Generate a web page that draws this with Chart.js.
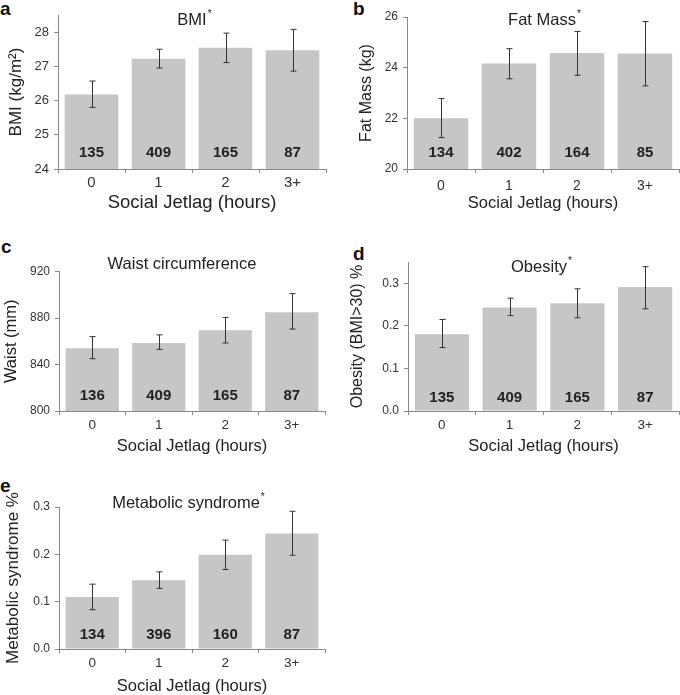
<!DOCTYPE html>
<html>
<head>
<meta charset="utf-8">
<script src="https://cdn.jsdelivr.net/npm/chart.js@4.4.1/dist/chart.umd.min.js"></script>
<style>
  body { margin: 0; background: #fff; width: 680px; height: 695px; position: relative; overflow: hidden;
         font-family: "Liberation Sans", Arial, Helvetica, sans-serif; }
  .panel { position: absolute; }
  .letter { position: absolute; font-weight: bold; font-size: 19px; line-height: 19px; color: #111; }
</style>
</head>
<body>
<div class="letter" style="left:0px;top:-1px">a</div>
<div class="letter" style="left:353px;top:-1px">b</div>
<div class="letter" style="left:1px;top:237px">c</div>
<div class="letter" style="left:353px;top:244px">d</div>
<div class="letter" style="left:0px;top:476px">e</div>

<div class="panel" id="pa"><canvas id="ca"></canvas></div>
<div class="panel" id="pb"><canvas id="cb"></canvas></div>
<div class="panel" id="pc"><canvas id="cc"></canvas></div>
<div class="panel" id="pd"><canvas id="cd"></canvas></div>
<div class="panel" id="pe"><canvas id="ce"></canvas></div>

<script>
const categories = ['0', '1', '2', '3+'];

// a: BMI
const bmiMean = [26.18, 27.22, 27.54, 27.47];
const bmiLow  = [25.80, 26.95, 27.11, 26.86];
const bmiHigh = [26.57, 27.50, 27.97, 28.08];
const bmiN    = [135, 409, 165, 87];
const bmiTicks = [24, 25, 26, 27, 28];

// b: Fat mass
const fatMean = [22.00, 24.16, 24.58, 24.56];
const fatLow  = [21.24, 23.56, 23.70, 23.28];
const fatHigh = [22.78, 24.75, 25.43, 25.82];
const fatN    = [134, 402, 164, 85];
const fatTicks = [20, 22, 24, 26];

// c: Waist
const waistMean = [854, 858.5, 869.5, 885];
const waistLow  = [845, 853, 858.5, 870.5];
const waistHigh = [864, 865.5, 880.5, 901];
const waistN    = [136, 409, 165, 87];
const waistTicks = [800, 840, 880, 920];

// d: Obesity
const obesMean = [0.180, 0.243, 0.253, 0.291];
const obesLow  = [0.149, 0.224, 0.219, 0.240];
const obesHigh = [0.215, 0.265, 0.287, 0.339];
const obesN    = [135, 409, 165, 87];
const obesTicks = [0, 0.1, 0.2, 0.3];

// e: Metabolic syndrome
const metMean = [0.110, 0.145, 0.199, 0.244];
const metLow  = [0.083, 0.128, 0.168, 0.198];
const metHigh = [0.137, 0.163, 0.230, 0.291];
const metN    = [134, 396, 160, 87];
const metTicks = [0, 0.1, 0.2, 0.3];

Chart.defaults.font.family = '"Liberation Sans", Arial, Helvetica, sans-serif';
Chart.defaults.color = '#333';

function errorBars(low, high) {
  return {
    id: 'errorBars',
    afterDatasetsDraw(chart) {
      const { ctx } = chart;
      const y = chart.scales.y;
      ctx.save();
      ctx.strokeStyle = '#333';
      ctx.lineWidth = 1;
      chart.getDatasetMeta(0).data.forEach((bar, i) => {
        const x = Math.round(bar.x) + 0.5;
        const t = y.getPixelForValue(high[i]);
        const b = y.getPixelForValue(low[i]);
        ctx.beginPath();
        ctx.moveTo(x, t); ctx.lineTo(x, b);
        ctx.moveTo(x - 3, t); ctx.lineTo(x + 3, t);
        ctx.moveTo(x - 3, b); ctx.lineTo(x + 3, b);
        ctx.stroke();
      });
      ctx.restore();
    }
  };
}

function countLabels(counts, lift) {
  return {
    id: 'countLabels',
    afterDatasetsDraw(chart) {
      const { ctx, chartArea } = chart;
      ctx.save();
      ctx.font = 'bold 15px "Liberation Sans", Arial, sans-serif';
      ctx.fillStyle = '#222';
      ctx.textAlign = 'center';
      ctx.textBaseline = 'middle';
      chart.getDatasetMeta(0).data.forEach((bar, i) => {
        ctx.fillText(String(counts[i]), bar.x, chartArea.bottom - lift);
      });
      ctx.restore();
    }
  };
}

function panelTitle(text, star, cx, cy) {
  return {
    id: 'panelTitle',
    afterDraw(chart) {
      const { ctx } = chart;
      ctx.save();
      ctx.font = '16.5px "Liberation Sans", Arial, sans-serif';
      ctx.fillStyle = '#222';
      ctx.textBaseline = 'middle';
      const w = ctx.measureText(text).width;
      ctx.textAlign = 'left';
      const x0 = cx - w / 2;
      ctx.fillText(text, x0, cy);
      if (star) {
        ctx.font = '10px "Liberation Sans", Arial, sans-serif';
        ctx.fillText('*', x0 + w + 1, cy - 6);
      }
      ctx.restore();
    }
  };
}

function makePanel(p) {
  const box = document.getElementById(p.box);
  box.style.left = p.x + 'px';
  box.style.top = p.y + 'px';
  box.style.width = p.w + 'px';
  box.style.height = p.h + 'px';
  const fmt = p.decimals ? (v => Number(v).toFixed(p.decimals)) : (v => String(v));
  new Chart(document.getElementById(p.canvas), {
    type: 'bar',
    data: {
      labels: categories,
      datasets: [{
        data: p.mean,
        backgroundColor: '#c6c6c6',
        borderWidth: 0,
        categoryPercentage: 0.8,
        barPercentage: 1.0
      }]
    },
    options: {
      responsive: true,
      maintainAspectRatio: false,
      animation: false,
      events: [],
      layout: { padding: { top: p.T, right: p.w - p.R, left: 0, bottom: 0 } },
      plugins: { legend: { display: false }, tooltip: { enabled: false }, title: { display: false } },
      scales: {
        x: {
          afterFit: s => { s.height = p.h - p.B; },
          ticks: { font: { size: p.xTick }, color: '#333', padding: p.xTickPad },
          grid: { drawOnChartArea: false, tickLength: 4, color: '#888', offset: true },
          border: { color: '#888', width: 1 },
          title: { display: true, text: 'Social Jetlag (hours)', color: '#222',
                   font: { size: p.xTitle }, padding: { top: 0, bottom: p.xTitlePad } }
        },
        y: {
          min: p.min, max: p.max,
          afterFit: s => { s.width = p.L; },
          afterBuildTicks: s => { s.ticks = p.ticks.map(v => ({ value: v })); },
          ticks: { font: { size: p.yTick }, color: '#333', padding: 5, callback: v => fmt(v) },
          grid: { drawOnChartArea: false, tickLength: 4, color: '#888' },
          border: { color: '#888', width: 1 },
          title: { display: true, text: p.yLabel, color: '#222',
                   font: { size: p.yTitle }, padding: { top: p.yTitlePad, bottom: 0 } }
        }
      }
    },
    plugins: [errorBars(p.low, p.high), countLabels(p.n, p.lift), panelTitle(p.title, p.star, p.tx, p.ty)]
  });
}

makePanel({ box: 'pa', canvas: 'ca', x: 0, y: 0, w: 340, h: 230, L: 58, T: 15, R: 326, B: 169,
  mean: bmiMean, low: bmiLow, high: bmiHigh, n: bmiN, ticks: bmiTicks, min: 24, max: 28.5,
  yLabel: 'BMI (kg/m²)', yTitle: 17, yTitlePad: 6, yTick: 13,
  xTick: 15, xTickPad: 1, xTitle: 18.5, xTitlePad: 16, lift: 16,
  title: 'BMI', star: true, tx: 192, ty: 20 });

makePanel({ box: 'pb', canvas: 'cb', x: 340, y: 0, w: 340, h: 230, L: 67, T: 17, R: 339, B: 169,
  mean: fatMean, low: fatLow, high: fatHigh, n: fatN, ticks: fatTicks, min: 20, max: 26,
  yLabel: 'Fat Mass (kg)', yTitle: 16, yTitlePad: 17, yTick: 12,
  xTick: 14, xTickPad: 5, xTitle: 16.5, xTitlePad: 17, lift: 16,
  title: 'Fat Mass', star: true, tx: 202, ty: 20 });

makePanel({ box: 'pc', canvas: 'cc', x: 0, y: 230, w: 340, h: 230, L: 59, T: 41.5, R: 325, B: 181,
  mean: waistMean, low: waistLow, high: waistHigh, n: waistN, ticks: waistTicks, min: 800, max: 920,
  yLabel: 'Waist (mm)', yTitle: 16.5, yTitlePad: 2, yTick: 12,
  xTick: 13.5, xTickPad: 2, xTitle: 16.5, xTitlePad: 3.5, lift: 15,
  title: 'Waist circumference', star: false, tx: 182, ty: 34 });

makePanel({ box: 'pd', canvas: 'cd', x: 340, y: 230, w: 340, h: 230, L: 68, T: 32, R: 339, B: 181,
  mean: obesMean, low: obesLow, high: obesHigh, n: obesN, ticks: obesTicks, min: 0, max: 0.35, decimals: 1,
  yLabel: 'Obesity (BMI>30) %', yTitle: 16, yTitlePad: 7.5, yTick: 12,
  xTick: 13.5, xTickPad: 2, xTitle: 16.5, xTitlePad: 3.5, lift: 13,
  title: 'Obesity', star: true, tx: 199, ty: 37.5 });

makePanel({ box: 'pe', canvas: 'ce', x: 0, y: 460, w: 340, h: 240, L: 59, T: 47, R: 325, B: 189,
  mean: metMean, low: metLow, high: metHigh, n: metN, ticks: metTicks, min: 0, max: 0.3, decimals: 1,
  yLabel: 'Metabolic syndrome %', yTitle: 17, yTitlePad: 3, yTick: 12,
  xTick: 13.5, xTickPad: 2, xTitle: 16.5, xTitlePad: 3.5, lift: 14,
  title: 'Metabolic syndrome', star: true, tx: 186, ty: 43 });
</script>
</body>
</html>
